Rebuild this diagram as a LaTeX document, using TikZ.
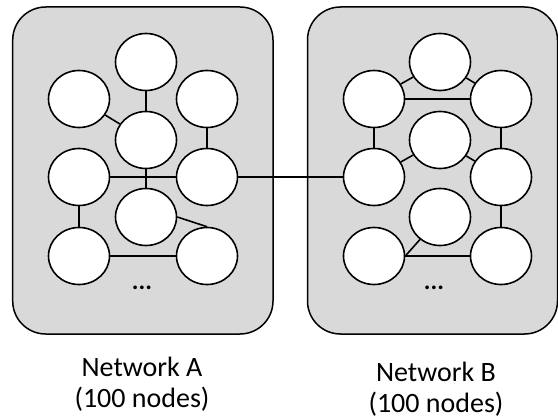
\documentclass[tikz,border=0pt]{standalone}
\usepackage{fontspec}
\setmainfont{Carlito}
\usetikzlibrary{shapes.geometric}
\definecolor{boxgray}{HTML}{D9D9D9}
\begin{document}
\begin{tikzpicture}[x=1pt,y=-1pt,
  netbox/.style={draw=black,fill=boxgray,line width=1.5pt,rounded corners=33pt},
  vertex/.style={ellipse,draw=black,fill=white,line width=1.6pt,minimum width=61pt,minimum height=57pt,inner sep=0pt},
  edge/.style={draw=black,line width=1.6pt},
  dots/.style={font=\fontsize{25}{28}\selectfont\bfseries,inner sep=0pt},
  label/.style={align=center,font=\fontsize{28}{31}\selectfont,inner sep=0pt}]
\useasboundingbox (0,0) rectangle (558,420);
\draw[netbox] (12.7,7) rectangle (273,334);
\draw[netbox] (307.5,7) rectangle (557.5,334);
% Network A
\node[vertex] (at) at (146,62) {};
\node[vertex] (aul) at (79,99) {};
\node[vertex] (aur) at (207,99) {};
\node[vertex] (ac) at (146,140) {};
\node[vertex] (aml) at (79,177) {};
\node[vertex] (amr) at (207,177) {};
\node[vertex] (alc) at (146,217) {};
\node[vertex] (abl) at (79,256) {};
\node[vertex] (abr) at (207,256) {};
\node[dots] (adots) at (142,288) {...};
% Network B
\node[vertex] (bt) at (440,62) {};
\node[vertex] (bul) at (374,99) {};
\node[vertex] (bur) at (501,99) {};
\node[vertex] (bc) at (440,140) {};
\node[vertex] (bml) at (374,177) {};
\node[vertex] (bmr) at (501,177) {};
\node[vertex] (blc) at (440,217) {};
\node[vertex] (bbl) at (374,256) {};
\node[vertex] (bbr) at (501,256) {};
\node[dots] (bdots) at (434,288) {...};
% edges A
\draw[edge] (at) -- (ac);
\draw[edge] (aul) -- (ac);
\draw[edge] (aur) -- (amr);
\draw[edge] (aml) -- (amr);
\draw[edge] (ac) -- (alc);
\draw[edge] (aml) -- (abl);
\draw[edge] (abl) -- (abr);
\draw[edge] (alc.east) -- (abr.north);
% edges B
\draw[edge] (bt) -- (bul);
\draw[edge] (bt) -- (bur);
\draw[edge] (bul) -- (bur);
\draw[edge] (bul) -- (bml);
\draw[edge] (bur) -- (bmr);
\draw[edge] (bc) -- (bml);
\draw[edge] (bc) -- (bmr);
\draw[edge] (bmr) -- (bbr);
\draw[edge] (bbl.east) -- (blc);
\draw[edge] (bbl) -- (bbr);
% link
\draw[edge] (amr) -- (bml);
% labels
\node[label] (la) at (142,384) {Network A\\(100 nodes)};
\node[label] (lb) at (436,389) {Network B\\(100 nodes)};
\end{tikzpicture}
\end{document}
